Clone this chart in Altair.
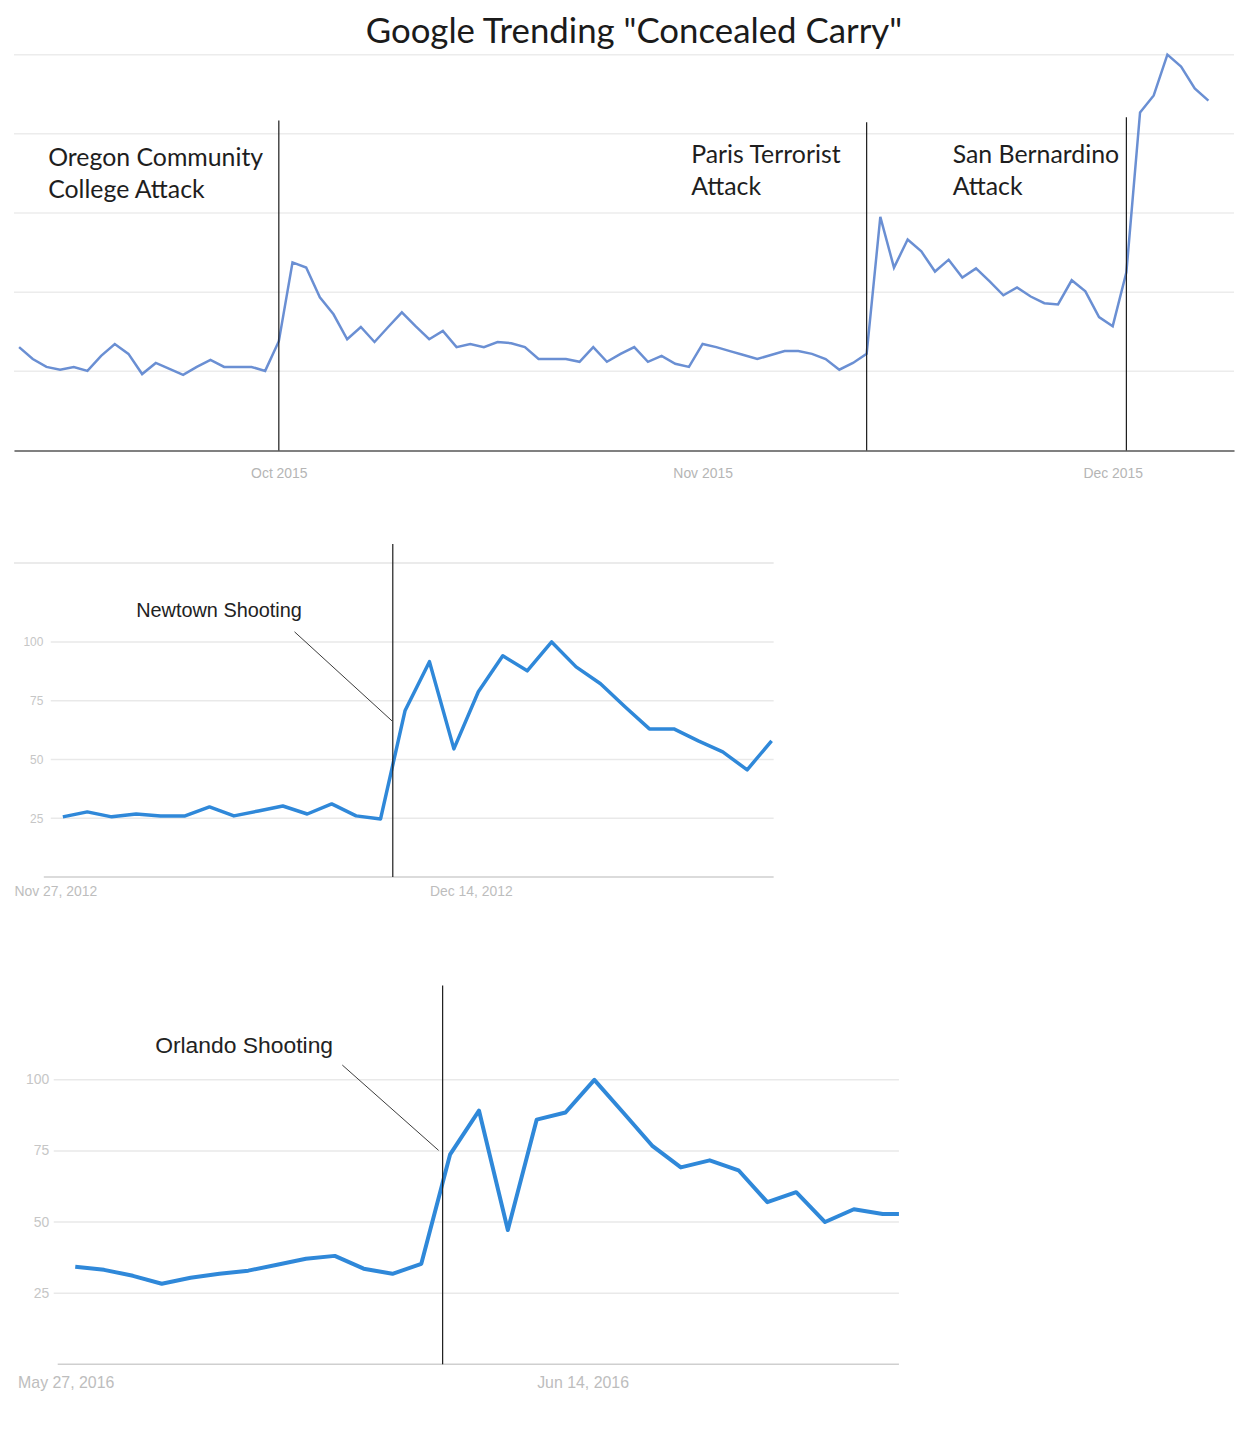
import altair as alt
import pandas as pd

# ------------------------------------------------------------------ data
TITLE = 'Google Trending "Concealed Carry"'

# Panel 1: daily interest, Sep 12 2015 .. Dec 8 2015
top_start = "2015-09-12"
top_values = [
    26.1, 23.1, 21.1, 20.4, 21.1, 20.1, 23.9, 26.9, 24.4, 19.3,
    22.1, 20.6, 19.1, 21.1, 22.9, 21.1, 21.1, 21.1, 20.1, 27.6,
    47.5, 46.2, 38.7, 34.4, 28.1, 31.2, 27.4, 31.2, 34.9, 31.4,
    28.1, 30.2, 26.1, 26.9, 26.1, 27.4, 27.1, 26.1, 23.1, 23.1,
    23.1, 22.4, 26.1, 22.4, 24.4, 26.1, 22.4, 23.9, 21.9, 21.1,
    26.9, 26.1, 25.1, 24.1, 23.1, 24.1, 25.1, 25.1, 24.4, 23.1,
    20.4, 22.1, 24.4, 59.0, 46.2, 53.3, 50.3, 45.2, 48.2, 43.7,
    46.0, 42.7, 39.2, 41.2, 38.9, 37.2, 36.9, 43.0, 40.2, 33.7,
    31.4, 45.0, 85.4, 89.7, 100.0, 97.0, 91.5, 88.4,
]
top_domain = ["2015-09-11T15:00", "2015-12-09T21:00"]
top_ticks = ["2015-10-01", "2015-11-01", "2015-12-01"]
top_grid = [20, 40, 60, 80, 100]
top_event_dates = ["2015-10-01", "2015-11-13", "2015-12-02"]
top_event_tops = [83.4, 82.9, 84.2]
top_label_text = ["Oregon Community", "College Attack",
                  "Paris Terrorist", "Attack",
                  "San Bernardino", "Attack"]
top_label_dates = ["2015-09-14T03:00", "2015-09-14T03:00",
                   "2015-10-31T04:00", "2015-10-31T04:00",
                   "2015-11-19T07:00", "2015-11-19T07:00"]
top_label_values = [73.9, 65.8, 74.6, 66.6, 74.6, 66.6]

# Panel 2: Newtown, daily, Nov 29 2012 .. Dec 28 2012
nt_start = "2012-11-29"
nt_values = [
    25.6, 27.7, 25.6, 26.8, 26.0, 26.0, 29.8, 26.0, 28.1, 30.2,
    26.8, 31.1, 26.0, 24.7, 70.7, 91.6, 54.5, 78.8, 94.1, 87.7,
    100.0, 89.4, 82.2, 72.4, 63.0, 63.0, 57.9, 53.2, 45.6, 57.9,
]
nt_domain = ["2012-11-27T00:00", "2012-12-28T02:00"]
nt_ticks = ["2012-11-27", "2012-12-14"]
nt_grid = [25, 50, 75, 100]
nt_ymax = 141.7
nt_frame = [133.6]
nt_event = ["2012-12-12T12:00"]
nt_event_top = [141.7]
nt_label = ["Newtown Shooting"]
nt_label_date = ["2012-12-02T00:00"]
nt_label_value = [113.2]
nt_ptr = [["2012-12-08T11:30", 104.3, "2012-12-12T11:15", 66.4]]

# Panel 3: Orlando, daily, May 29 2016 .. Jun 27 2016
or_start = "2016-05-29"
or_values = [
    34.3, 33.2, 31.1, 28.3, 30.4, 31.8, 32.9, 35.0, 37.1, 38.1,
    33.6, 31.8, 35.3, 73.8, 89.2, 47.2, 86.0, 88.5, 100.0, 88.5,
    76.9, 69.2, 71.7, 68.2, 57.0, 60.5, 50.0, 54.5, 52.8, 52.8,
]
or_domain = ["2016-05-26T21:00", "2016-06-26T13:30"]
or_ticks = ["2016-05-27", "2016-06-14"]
or_grid = [25, 50, 75, 100]
or_ymax = 141.6
or_frame = []
or_event = ["2016-06-10T17:45"]
or_event_top = [133.2]
or_label = ["Orlando Shooting"]
or_label_date = ["2016-05-31T18:30"]
or_label_value = [111.9]
or_ptr = [["2016-06-07T06:15", 105.2, "2016-06-10T14:24", 75.2]]


def dt(s):
    t = pd.Timestamp(s)
    return alt.DateTime(year=t.year, month=t.month, date=t.day,
                        hours=t.hour, minutes=t.minute)


def ts(values):
    return [pd.Timestamp(v) for v in values]


# ------------------------------------------------------------------ panel 1
W1, H1 = 1227, 398
xs1 = alt.Scale(domain=[dt(top_domain[0]), dt(top_domain[1])])
ys1 = alt.Scale(domain=[0, 100], nice=False, zero=False)
ax1 = alt.Axis(
    values=[dt(t) for t in top_ticks], format="%b %Y", grid=False,
    ticks=False, tickSize=0, domain=True, domainColor="#808080",
    domainWidth=2, labelAlign="center", labelFlush=False,
    labelOverlap=False, labelPadding=16, labelColor="#b5b5b5",
    labelFontSize=14, labelFont="Liberation Sans", title=None)

top_df = pd.DataFrame({
    "date": pd.date_range(top_start, periods=len(top_values), freq="D"),
    "value": top_values,
})

grid1 = alt.Chart(pd.DataFrame({"v": top_grid})).mark_rule(
    color="#ececec", strokeWidth=1.5
).encode(y=alt.Y("v:Q", scale=ys1, axis=None))

line1 = alt.Chart(top_df).mark_line(color="#6a8fd3", strokeWidth=2.5).encode(
    x=alt.X("date:T", scale=xs1, axis=ax1, title=None),
    y=alt.Y("value:Q", scale=ys1, axis=None),
)

ev1 = alt.Chart(pd.DataFrame({
    "date": ts(top_event_dates), "top": top_event_tops,
    "bottom": [0] * len(top_event_dates),
})).mark_rule(color="#1a1a1a", strokeWidth=1.2).encode(
    x=alt.X("date:T", scale=xs1, axis=ax1, title=None),
    y=alt.Y("top:Q", scale=ys1, axis=None),
    y2="bottom:Q",
)

txt1 = alt.Chart(pd.DataFrame({
    "date": ts(top_label_dates), "v": top_label_values, "t": top_label_text,
})).mark_text(align="left", baseline="middle", font="Lato", fontSize=25,
              color="#1e1e1e").encode(
    x=alt.X("date:T", scale=xs1, axis=ax1, title=None),
    y=alt.Y("v:Q", scale=ys1, axis=None),
    text="t:N",
)

panel1 = alt.layer(grid1, line1, ev1, txt1).properties(width=W1, height=H1)


# ------------------------------------------------------------------ panels 2/3
def trends_panel(values, start, domain, ticks, grid, ymax, frame, event,
                 event_top, label, label_date, label_value, ptr, W, H,
                 line_w, text_size, ylab_size, xlab_size, xlab_pad, ylab_pad,
                 grid_x0, base_x0):
    xs = alt.Scale(domain=[dt(domain[0]), dt(domain[1])])
    ys = alt.Scale(domain=[0, ymax], nice=False, zero=False)
    axx = alt.Axis(
        values=[dt(t) for t in ticks], format="%b %-d, %Y", grid=False,
        ticks=False, tickSize=0, domain=False, labelAlign="left",
        labelFlush=False, labelOverlap=False, labelPadding=xlab_pad,
        labelColor="#bdbdbd", labelFontSize=xlab_size,
        labelFont="Liberation Sans", title=None)
    axy = alt.Axis(
        values=grid, grid=False, ticks=False, tickSize=0, domain=False,
        labelAlign="right", labelBaseline="middle",
        labelPadding=-ylab_pad, labelColor="#c6c6c6",
        labelFontSize=ylab_size, labelFont="Liberation Sans", title=None)
    df = pd.DataFrame({
        "date": pd.date_range(start, periods=len(values), freq="D"),
        "value": values,
    })
    layers = []
    layers.append(alt.Chart(pd.DataFrame({"v": grid})).mark_rule(
        color="#e9e9e9", strokeWidth=1.5).encode(
        y=alt.Y("v:Q", scale=ys, axis=axy, title=None),
        x=alt.value(grid_x0), x2=alt.value(W)))
    if frame:
        layers.append(alt.Chart(pd.DataFrame({"v": frame})).mark_rule(
            color="#e4e4e4", strokeWidth=1.5).encode(
            y=alt.Y("v:Q", scale=ys, axis=axy, title=None),
            x=alt.value(0), x2=alt.value(W)))
    layers.append(alt.Chart(pd.DataFrame({"v": [0]})).mark_rule(
        color="#cfcfcf", strokeWidth=1.5).encode(
        y=alt.Y("v:Q", scale=ys, axis=axy, title=None),
        x=alt.value(base_x0), x2=alt.value(W)))
    layers.append(alt.Chart(df).mark_line(
        color="#2f88d9", strokeWidth=line_w, clip=True,
        strokeJoin="round").encode(
        x=alt.X("date:T", scale=xs, axis=axx, title=None),
        y=alt.Y("value:Q", scale=ys, axis=axy, title=None),
    ))
    layers.append(alt.Chart(pd.DataFrame({
        "date": ts(event), "top": event_top, "bottom": [0] * len(event),
    })).mark_rule(color="#1a1a1a", strokeWidth=1.2).encode(
        x=alt.X("date:T", scale=xs, axis=axx, title=None),
        y=alt.Y("top:Q", scale=ys, axis=axy, title=None),
        y2="bottom:Q"))
    layers.append(alt.Chart(pd.DataFrame({
        "d1": ts([p[0] for p in ptr]), "v1": [p[1] for p in ptr],
        "d2": ts([p[2] for p in ptr]), "v2": [p[3] for p in ptr],
    })).mark_rule(color="#3a3a3a", strokeWidth=1).encode(
        x=alt.X("d1:T", scale=xs, axis=axx, title=None), x2="d2:T",
        y=alt.Y("v1:Q", scale=ys, axis=axy, title=None), y2="v2:Q"))
    layers.append(alt.Chart(pd.DataFrame({
        "date": ts(label_date), "v": label_value, "t": label,
    })).mark_text(align="left", baseline="middle", font="Liberation Sans",
                  fontSize=text_size, color="#222222").encode(
        x=alt.X("date:T", scale=xs, axis=axx, title=None),
        y=alt.Y("v:Q", scale=ys, axis=axy, title=None),
        text="t:N"))
    return alt.layer(*layers).properties(width=W, height=H)


panel2 = trends_panel(nt_values, nt_start, nt_domain, nt_ticks, nt_grid,
                      nt_ymax, nt_frame, nt_event, nt_event_top, nt_label,
                      nt_label_date, nt_label_value, nt_ptr,
                      W=764, H=335, line_w=3.5, text_size=20, ylab_size=12,
                      xlab_size=14, xlab_pad=8, ylab_pad=29, grid_x0=37,
                      base_x0=30)

panel3 = trends_panel(or_values, or_start, or_domain, or_ticks, or_grid,
                      or_ymax, or_frame, or_event, or_event_top, or_label,
                      or_label_date, or_label_value, or_ptr,
                      W=890, H=405, line_w=4, text_size=23, ylab_size=14,
                      xlab_size=16, xlab_pad=10, ylab_pad=35, grid_x0=40,
                      base_x0=44)

chart = alt.vconcat(
    panel1, panel2, panel3, spacing=63,
    padding={"left": 5, "top": 3, "right": 5, "bottom": 5},
    title=alt.TitleParams(TITLE, fontSize=35, font="Lato",
                          fontWeight="normal", color="#1b1b1b",
                          anchor="middle", dx=10, offset=0),
).configure_view(stroke=None)

chart.save("out.html", embed_options={"renderer": "svg", "actions": False})
